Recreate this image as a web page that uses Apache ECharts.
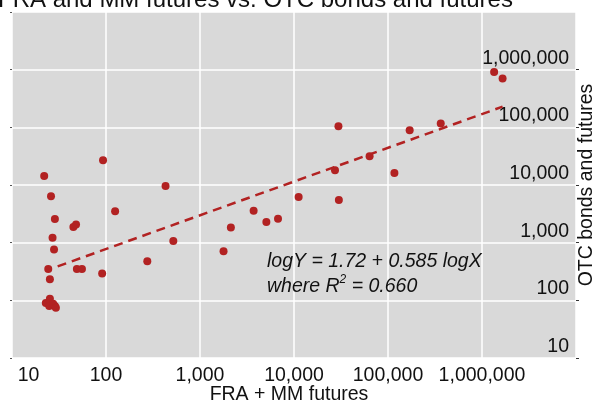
<!DOCTYPE html>
<html>
<head>
<meta charset="utf-8">
<script src="https://cdn.jsdelivr.net/npm/echarts@6/dist/echarts.min.js"></script>
<style>
html,body{margin:0;padding:0;background:#fff;}
#chart{width:594px;height:403px;}
</style>
</head>
<body>
<div id="chart"></div>
<script>
// FRA + MM futures (x) vs OTC bonds and futures (y)
const xVals = [22, 93, 26, 430, 125, 28.6, 45, 48, 27, 28, 520, 24.3, 49, 55.5, 275, 91, 25.3,
  25.3, 22.9, 24.9, 28.6, 27.4, 29.3,
  1780, 2130, 3720, 5080, 6760, 11200, 27300, 30000, 63700, 117000, 29700, 170000, 364000, 1346000, 1656000];
const yVals = [14300, 26800, 6400, 9600, 3500, 2560, 1870, 2070, 1220, 760, 1070, 350, 350, 350, 475, 293, 231,
  107, 90, 79.5, 79.5, 87.5, 74.6,
  707, 1840, 3590, 2280, 2610, 6180, 18000, 5480, 31400, 16100, 104000, 88700, 117000, 910000, 700000];
// fitted line endpoints (logY = 1.72 + 0.585 logX)
const fitX = [30.6, 1656000];
const fitY = [388, 228000];
const tickLabels = ['10', '100', '1,000', '10,000', '100,000', '1,000,000'];
const titleText = 'FRA and MM futures vs. OTC bonds and futures';
const xName = 'FRA + MM futures';
const yName = 'OTC bonds and futures';

const FONT = '"Liberation Sans", Arial, Helvetica, sans-serif';
const RED = '#b22222';

function fmt(v) {
  const e = Math.round(Math.log10(v));
  if (e < 1 || e > 6) return '';
  return tickLabels[e - 1];
}

const chart = echarts.init(document.getElementById('chart'));
chart.setOption({
  animation: false,
  backgroundColor: '#fff',
  title: {
    text: titleText, left: -2, top: -12, padding: 0,
    textStyle: { fontFamily: FONT, fontSize: 24, fontWeight: 'normal', color: '#111' }
  },
  grid: { left: 12, right: 18, top: 12, bottom: 45, show: true, backgroundColor: '#d9d9d9', borderWidth: 0,
          containLabel: false, outerBoundsMode: 'none' },
  xAxis: {
    type: 'log', logBase: 10, min: 10, max: 10000000,
    name: xName, nameLocation: 'middle', nameGap: 27, nameMoveOverlap: false,
    nameTextStyle: { fontFamily: FONT, fontSize: 19.5, color: '#111', padding: [0, 10, 0, 0] },
    axisLine: { show: false }, axisTick: { show: false },
    splitLine: { show: true, lineStyle: { color: '#ffffff', width: 1.5 } },
    axisLabel: {
      fontFamily: FONT, fontSize: 19.5, color: '#111', margin: 8, showMaxLabel: false,
      formatter: function (v) {
        const s = fmt(v);
        if (s === '10') return '{l|10}';
        return s;
      },
      rich: { l: { fontFamily: FONT, fontSize: 19.5, color: '#111', padding: [0, 0, 0, 33] } }
    }
  },
  yAxis: [
    {
      type: 'log', logBase: 10, min: 10, max: 10000000, position: 'right',
      name: yName, nameLocation: 'middle', nameRotate: 90, nameGap: 1, nameMoveOverlap: false,
      nameTextStyle: { fontFamily: FONT, fontSize: 19.5, color: '#111' },
      axisLine: { show: false },
      axisTick: { show: true, length: 3, lineStyle: { color: '#333', width: 1 } },
      splitLine: { show: true, lineStyle: { color: '#ffffff', width: 1.5 } },
      axisLabel: {
        inside: true, margin: 7, fontFamily: FONT, fontSize: 19.5, color: '#111',
        verticalAlign: 'bottom', lineHeight: 23, showMaxLabel: false,
        formatter: fmt
      }
    },
    {
      type: 'log', logBase: 10, min: 10, max: 10000000, position: 'left',
      axisLine: { show: false },
      axisTick: { show: true, length: 2, lineStyle: { color: '#555', width: 1 } },
      splitLine: { show: false },
      axisLabel: { show: false }
    }
  ],
  series: [
    {
      type: 'line', data: fitX.map((x, i) => [x, fitY[i]]), symbol: 'none', z: 2,
      lineStyle: { color: RED, width: 2.5, type: [9, 6] }
    },
    {
      type: 'scatter', data: xVals.map((x, i) => [x, yVals[i]]), symbolSize: 8, z: 3,
      itemStyle: { color: RED, opacity: 1 }
    }
  ],
  graphic: [
    {
      type: 'text', left: 267, top: 251.5, z: 10,
      style: {
        text: '{i|logY = 1.72 + 0.585 logX}\n{i|where R}{s|2}{i| = 0.660}',
        rich: {
          i: { fontFamily: FONT, fontSize: 19.5, fontStyle: 'italic', lineHeight: 25, fill: '#111' },
          s: { fontFamily: FONT, fontSize: 12, fontStyle: 'italic', lineHeight: 12, verticalAlign: 'top', fill: '#111' }
        }
      }
    }
  ]
});
</script>
</body>
</html>
